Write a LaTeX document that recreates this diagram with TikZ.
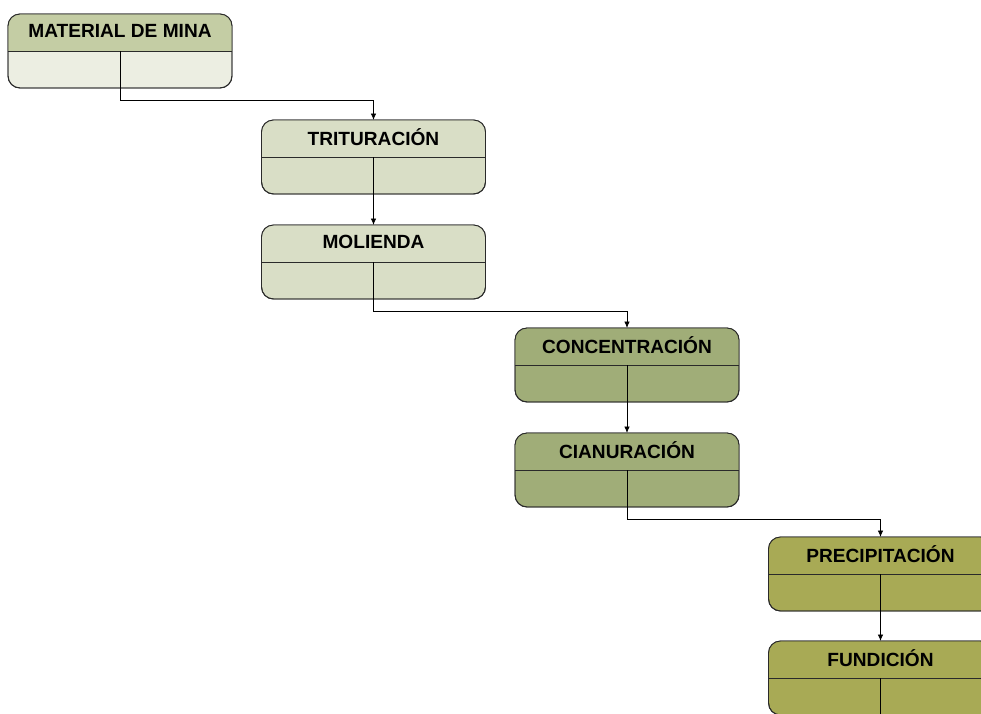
\documentclass[tikz,border=0pt]{standalone}
\usepackage{fontspec}
\setmainfont{Liberation Sans}
\usetikzlibrary{arrows.meta}
\definecolor{hdrA}{HTML}{C4CDA4}
\definecolor{bodA}{HTML}{ECEEE2}
\definecolor{colB}{HTML}{D9DEC6}
\definecolor{colC}{HTML}{A0AD78}
\definecolor{colD}{HTML}{A8AA55}
\definecolor{edge}{HTML}{2A2A2A}
\tikzset{
  boxshape/.style={draw=edge, line width=0.9pt, rounded corners=12pt, minimum width=224pt, minimum height=74pt, inner sep=0pt, outer sep=0pt},
  lbl/.style={font=\fontsize{19.1}{21}\selectfont\bfseries, text=black, inner sep=0pt},
  conn/.style={draw=black, line width=0.8pt},
  arr/.style={conn, -{Latex[length=6.5pt,width=5.5pt]}}
}
\newcommand\procbox[6]{%
  \node[boxshape, fill=#5] (#1) at (#2+112,#3+37) {};
  \begin{scope}
    \clip[rounded corners=12pt] (#1.south west) rectangle (#1.north east);
    \fill[#4] (#1.north west) rectangle (#1.east);
  \end{scope}
  \draw[draw=edge, line width=0.9pt, rounded corners=12pt] (#1.south west) rectangle (#1.north east);
  \draw[draw=edge, line width=0.9pt] (#1.west) -- (#1.east);
  \coordinate (#1s) at (#1.center);
  \node[lbl] (#1t) at ([yshift=20pt]#1.center) {#6};
}
\begin{document}
\begin{tikzpicture}[x=1pt,y=-1pt]
\useasboundingbox (0,0) rectangle (981,713);
\procbox{b1}{8}{14}{hdrA}{bodA}{MATERIAL DE MINA}
\procbox{b2}{261.5}{120}{colB}{colB}{TRITURACIÓN}
\procbox{b3}{261.5}{225}{colB}{colB}{MOLIENDA}
\procbox{b4}{515}{328}{colC}{colC}{CONCENTRACIÓN}
\procbox{b5}{515}{433}{colC}{colC}{CIANURACIÓN}
\procbox{b6}{768.5}{537}{colD}{colD}{PRECIPITACIÓN}
\procbox{b7}{768.5}{641}{colD}{colD}{FUNDICIÓN}
\draw[arr] (b1s) |- ([yshift=-12pt]b1.south) -| (b2.north);
\draw[arr] (b2s) -- (b3.north);
\draw[arr] (b3s) |- ([yshift=-12pt]b3.south) -| (b4.north);
\draw[arr] (b4s) -- (b5.north);
\draw[arr] (b5s) |- ([yshift=-12pt]b5.south) -| (b6.north);
\draw[arr] (b6s) -- (b7.north);
\draw[conn] (b7s) -- (b7.south);
\end{tikzpicture}
\end{document}
